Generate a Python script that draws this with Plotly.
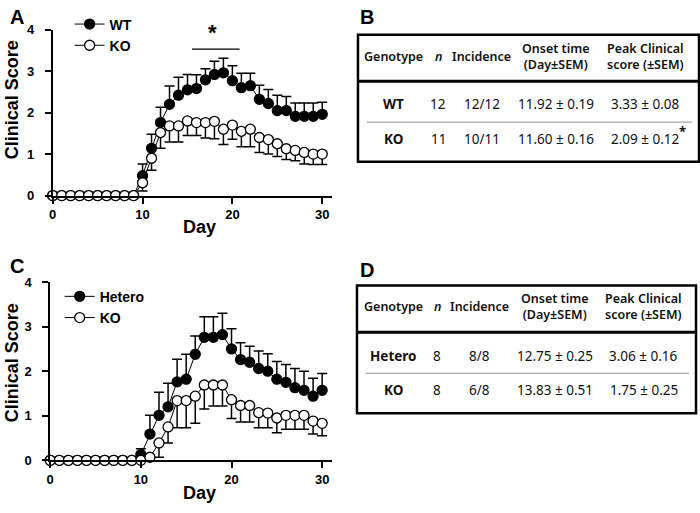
import plotly.graph_objects as go

W, H = 700, 513

days = list(range(0, 31))

# Panel A
wt_mean = [0, 0, 0, 0, 0, 0, 0, 0, 0, 0,
           0.48, 1.14, 1.76, 2.20, 2.42, 2.55, 2.58, 2.79, 2.92, 2.96,
           2.77, 2.60, 2.65, 2.32, 2.22, 2.05, 2.05, 1.91, 1.91, 1.91, 1.96]
wt_sem = [0, 0, 0, 0, 0, 0, 0, 0, 0, 0,
          0.28, 0.34, 0.37, 0.44, 0.43, 0.37, 0.33, 0.27, 0.32, 0.35,
          0.36, 0.35, 0.30, 0.34, 0.34, 0.37, 0.34, 0.32, 0.32, 0.32, 0.29]
koA_mean = [0, 0, 0, 0, 0, 0, 0, 0, 0, 0,
            0.31, 0.90, 1.52, 1.68, 1.68, 1.80, 1.76, 1.76, 1.79, 1.60,
            1.70, 1.55, 1.60, 1.40, 1.35, 1.25, 1.13, 1.09, 1.04, 1.00, 1.00]
koA_sem = [0, 0, 0, 0, 0, 0, 0, 0, 0, 0,
           0.20, 0.29, 0.38, 0.39, 0.39, 0.35, 0.31, 0.37, 0.42, 0.37,
           0.34, 0.37, 0.42, 0.36, 0.35, 0.31, 0.26, 0.25, 0.28, 0.25, 0.25]

# Panel C
het_mean = [0, 0, 0, 0, 0, 0, 0, 0, 0, 0,
            0.13, 0.59, 1.01, 1.20, 1.76, 1.82, 2.38, 2.76, 2.76, 2.82,
            2.50, 2.26, 2.20, 2.06, 2.00, 1.82, 1.75, 1.63, 1.57, 1.44, 1.57]
het_sem = [0, 0, 0, 0, 0, 0, 0, 0, 0, 0,
           0.13, 0.42, 0.52, 0.53, 0.51, 0.56, 0.41, 0.46, 0.46, 0.48,
           0.45, 0.38, 0.36, 0.39, 0.39, 0.40, 0.40, 0.43, 0.43, 0.40, 0.38]
koC_mean = [0, 0, 0, 0, 0, 0, 0, 0, 0, 0,
            0, 0.07, 0.39, 0.75, 1.34, 1.34, 1.44, 1.69, 1.69, 1.69,
            1.36, 1.23, 1.23, 1.07, 1.06, 0.95, 1.01, 1.01, 1.01, 0.88, 0.83]
koC_sem = [0, 0, 0, 0, 0, 0, 0, 0, 0, 0,
           0, 0.07, 0.32, 0.36, 0.61, 0.61, 0.61, 0.54, 0.47, 0.47,
           0.42, 0.37, 0.37, 0.34, 0.33, 0.33, 0.31, 0.31, 0.31, 0.29, 0.28]

x_ticks = [0, 10, 20, 30]
y_ticks = [0, 1, 2, 3, 4]

# significance marker in A
sig_days = [15.5, 20.8]
sig_level = 3.53

# Tables
tbl_header = ["Genotype", "<i>n</i>", "Incidence", "Onset time<br>(Day±SEM)", "Peak Clinical<br>score (±SEM)"]
tblB_rows = [["WT", "12", "12/12", "11.92 ± 0.19", "3.33 ± 0.08"],
             ["KO", "11", "10/11", "11.60 ± 0.16", "2.09 ± 0.12"]]
tblD_rows = [["Hetero", "8", "8/8", "12.75 ± 0.25", "3.06 ± 0.16"],
             ["KO", "8", "6/8", "13.83 ± 0.51", "1.75 ± 0.25"]]

AX_FONT = "Liberation Sans, Arial, sans-serif"
TB_FONT = "Noto Sans, sans-serif"


def px(x):
    return x / W


def py(y):
    return 1 - y / H


fig = go.Figure()


def add_series(xa, ya, mean, sem, name, filled, legend, upper):
    err = dict(type="data", symmetric=False, color="black", thickness=1.5, width=5)
    if upper:
        err["array"] = sem
        err["arrayminus"] = [0] * len(sem)
    else:
        err["array"] = [0] * len(sem)
        err["arrayminus"] = sem
    fig.add_trace(go.Scatter(
        x=days, y=mean, name=name, mode="lines+markers", xaxis=xa, yaxis=ya,
        line=dict(color="black", width=1),
        marker=dict(size=10, color="black" if filled else "white",
                    line=dict(color="black", width=1.3)),
        error_y=err, cliponaxis=False, legend=legend))


add_series("x", "y", wt_mean, wt_sem, "WT", True, "legend", True)
add_series("x", "y", koA_mean, koA_sem, "KO", False, "legend", False)
add_series("x2", "y2", het_mean, het_sem, "Hetero", True, "legend2", True)
add_series("x2", "y2", koC_mean, koC_sem, "KO", False, "legend2", False)

axis_common = dict(showgrid=False, zeroline=False, showline=True, linecolor="black",
                   linewidth=2, ticks="outside", ticklen=6, tickwidth=2, tickcolor="black",
                   tickfont=dict(family=AX_FONT, size=13, color="black", weight="bold"))

fig.update_layout(
    width=W, height=H, margin=dict(l=0, r=0, t=0, b=0),
    paper_bgcolor="white", plot_bgcolor="white",
    xaxis=dict(domain=[px(49), px(330)], range=[0, 31.1], tickvals=x_ticks,
               anchor="y", **axis_common),
    yaxis=dict(domain=[py(194.3), py(23.3)], range=[0, 4], tickvals=y_ticks,
               anchor="x", ticklabelstandoff=8, **axis_common),
    xaxis2=dict(domain=[px(46.5), px(330)], range=[0, 31.1], tickvals=x_ticks,
                anchor="y2", **axis_common),
    yaxis2=dict(domain=[py(467), py(283.3)], range=[0, 4], tickvals=y_ticks,
                anchor="x2", ticklabelstandoff=8, **axis_common),
    legend=dict(x=px(66), y=py(1.5), xanchor="left", yanchor="top",
                bgcolor="rgba(0,0,0,0)", tracegroupgap=0,
                font=dict(family=AX_FONT, size=14, color="black", weight="bold")),
    legend2=dict(x=px(56), y=py(282), xanchor="left", yanchor="top",
                 bgcolor="rgba(0,0,0,0)", tracegroupgap=0,
                 font=dict(family=AX_FONT, size=14, color="black", weight="bold")),
)

ann = []
shapes = []

# axis titles
for (xc, yc, txt, ang) in [(8, 95, "Clinical Score", -90), (197, 227, "Day", 0),
                           (8, 366, "Clinical Score", -90), (197, 501, "Day", 0)]:
    ann.append(dict(x=px(xc), y=py(yc), xref="paper", yref="paper", text=txt,
                    textangle=ang, showarrow=False, xanchor="center", yanchor="middle",
                    font=dict(family=AX_FONT, size=18, color="black", weight="bold")))

# panel letters
for (xc, yc, txt) in [(4, 10, "A"), (356, 10, "B"), (4, 267, "C"), (356, 271, "D")]:
    ann.append(dict(x=px(xc), y=py(yc), xref="paper", yref="paper", text=txt,
                    showarrow=False, xanchor="left", yanchor="middle",
                    font=dict(family=AX_FONT, size=20, color="black", weight="bold")))

# significance bar in A
shapes.append(dict(type="line", xref="x", yref="y", x0=sig_days[0], x1=sig_days[1],
                   y0=sig_level, y1=sig_level, line=dict(color="black", width=1.2)))
ann.append(dict(x=sum(sig_days) / 2 - 0.4, y=sig_level + 0.06, xref="x", yref="y", text="*",
                showarrow=False, xanchor="center", yanchor="bottom",
                font=dict(family=AX_FONT, size=22, color="black", weight="bold")))


def add_table(rows, left, right, top, bottom, hsep, rsep, head_y, row_ys, col_x, star=None):
    shapes.append(dict(type="rect", xref="paper", yref="paper", x0=px(left), x1=px(right),
                       y0=py(bottom), y1=py(top), line=dict(color="black", width=2.5)))
    shapes.append(dict(type="line", xref="paper", yref="paper", x0=px(left), x1=px(right),
                       y0=py(hsep), y1=py(hsep), line=dict(color="black", width=3)))
    shapes.append(dict(type="line", xref="paper", yref="paper", x0=px(left + 9),
                       x1=px(right - 7), y0=py(rsep), y1=py(rsep),
                       line=dict(color="#aaaaaa", width=1.2)))
    for i, h in enumerate(tbl_header):
        ann.append(dict(x=px(col_x[i]), y=py(head_y), xref="paper", yref="paper", text=h,
                        showarrow=False, xanchor="center", yanchor="middle",
                        font=dict(family=TB_FONT, size=12.5, color="#111", weight=600)))
    for r, row in enumerate(rows):
        for i, v in enumerate(row):
            ann.append(dict(x=px(col_x[i]), y=py(row_ys[r]), xref="paper", yref="paper",
                            text=v, showarrow=False, xanchor="center", yanchor="middle",
                            font=dict(family=TB_FONT, size=13.5, color="#111",
                                      weight="bold" if i == 0 else "normal")))
    if star:
        ann.append(dict(x=px(star[0]), y=py(star[1]), xref="paper", yref="paper", text="*",
                        showarrow=False, xanchor="center", yanchor="middle",
                        font=dict(family=TB_FONT, size=13, color="#111", weight="bold")))


add_table(tblB_rows, 356, 699, 28.5, 159.5, 76.5, 118.5, 50.5, [99.5, 135.5],
          [391.5, 436.5, 480.5, 555, 645], star=(682, 128))
add_table(tblD_rows, 355, 696, 287, 418.5, 335, 377.5, 309, [359, 394.5],
          [391.5, 435.5, 478.5, 554.5, 643.5])

fig.update_layout(annotations=ann, shapes=shapes)

fig.write_html("out.html", config={"displayModeBar": False},
               post_script="document.body.style.margin='0';document.body.style.overflow='hidden';")
